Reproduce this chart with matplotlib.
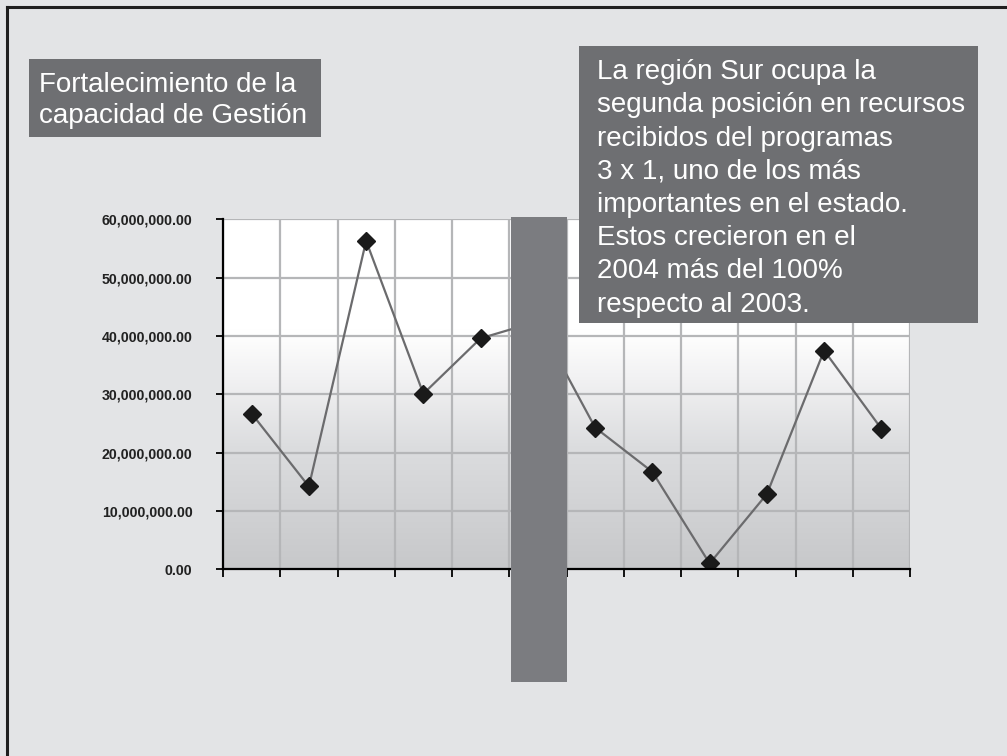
import numpy as np
import matplotlib
matplotlib.use("Agg")
import matplotlib.pyplot as plt
from matplotlib.patches import Rectangle
from matplotlib.colors import LinearSegmentedColormap
from matplotlib.ticker import FuncFormatter

# ---- data ----
categories = list(range(1, 13))
values = [26.7e6, 14.2e6, 56.3e6, 30.1e6, 39.6e6, 42.5e6,
          24.3e6, 16.7e6, 1.0e6, 12.9e6, 37.5e6, 24.1e6]
y_ticks = [0, 10e6, 20e6, 30e6, 40e6, 50e6, 60e6]
title_lines = ["Fortalecimiento de la", "capacidad de Gestión"]
note_lines = ["La región Sur ocupa la",
              "segunda posición en recursos",
              "recibidos del programas",
              "3 x 1, uno de los más",
              "importantes en el estado.",
              "Estos crecieron en el",
              "2004 más del 100%",
              "respecto al 2003."]

W, H = 1007, 756
BG = "#e3e4e6"
BOX = "#6e6f72"
BAR = "#7b7c80"

fig = plt.figure(figsize=(W / 100, H / 100), dpi=100, facecolor=BG)

def fx(px):
    return px / W

def fy(py):
    return 1 - py / H

# axes placement (pixels)
L, R, T, B = 223, 910, 219.3, 569.3
ax = fig.add_axes([fx(L), fy(B), fx(R - L), (B - T) / H])
ax.set_facecolor("white")

n = len(categories)
x = np.arange(n)
ax.set_xlim(-0.5, n - 0.5)
ax.set_ylim(0, 60e6)

# gradient background
cmap = LinearSegmentedColormap.from_list(
    "g", [(0, "#c7c8ca"), (0.35, "#dcdddf"), (0.55, "#f2f2f3"), (0.68, "#ffffff"), (1, "#ffffff")])
grad = np.linspace(0, 1, 256).reshape(-1, 1)
ax.imshow(grad, extent=[-0.5, n - 0.5, 0, 60e6], origin="lower", aspect="auto",
          cmap=cmap, zorder=0, interpolation="bicubic")

# grid
ax.set_xticks(np.arange(-0.5, n, 1.0))
ax.set_yticks(y_ticks)
ax.grid(True, color="#b5b6b8", linewidth=1.6, zorder=1)
ax.set_axisbelow(True)
for g in ax.get_xgridlines() + ax.get_ygridlines():
    g.set_zorder(1)

ax.plot(x, values, color="#6b6b6d", linewidth=1.6, marker="D", markersize=9,
        markerfacecolor="#1a1a1a", markeredgecolor="#1a1a1a", zorder=3)

ax.set_xticklabels([])
ax.yaxis.set_major_formatter(FuncFormatter(lambda v, p: f"{v:,.2f}"))
ax.tick_params(axis="y", direction="out", length=5, width=1.3, color="black",
               labelsize=10.2, pad=17)
ax.tick_params(axis="x", direction="out", length=6, width=1.3, color="black")
for lab in ax.get_yticklabels():
    lab.set_fontfamily("Liberation Sans")
    lab.set_fontweight("bold")
    lab.set_color("#222222")
for s in ["top", "right"]:
    ax.spines[s].set_visible(False)
for s in ["left", "bottom"]:
    ax.spines[s].set_color("black")
    ax.spines[s].set_linewidth(1.6)
    ax.spines[s].set_zorder(4)

# frame lines (top & left)
fig.add_artist(plt.Line2D([fx(7), 1], [fy(7), fy(7)], color="#1e1e1e", linewidth=2.2,
                          transform=fig.transFigure))
fig.add_artist(plt.Line2D([fx(7), fx(7)], [fy(7), 0], color="#1e1e1e", linewidth=2.2,
                          transform=fig.transFigure))

def rect(x0, y0, x1, y1, color, z):
    fig.add_artist(Rectangle((fx(x0), fy(y1)), fx(x1 - x0), (y1 - y0) / H,
                             transform=fig.transFigure, facecolor=color,
                             edgecolor="none", zorder=z))

# covering bar
rect(511, 216.7, 566.7, 681.7, BAR, 10)

# title box
rect(29.3, 59, 321, 136.7, BOX, 10)
for i, line in enumerate(title_lines):
    fig.text(fx(39), fy(91.7 + i * 31.6), line, color="white", fontsize=20,
             family="Liberation Sans", va="baseline", ha="left", zorder=11)

# note box
rect(579.3, 45.7, 978.3, 322.7, BOX, 10)
for i, line in enumerate(note_lines):
    fig.text(fx(597), fy(79.3 + i * 33.2), line, color="white", fontsize=20,
             family="Liberation Sans", va="baseline", ha="left", zorder=11)

fig.savefig("out.png", dpi=100, facecolor=BG)
